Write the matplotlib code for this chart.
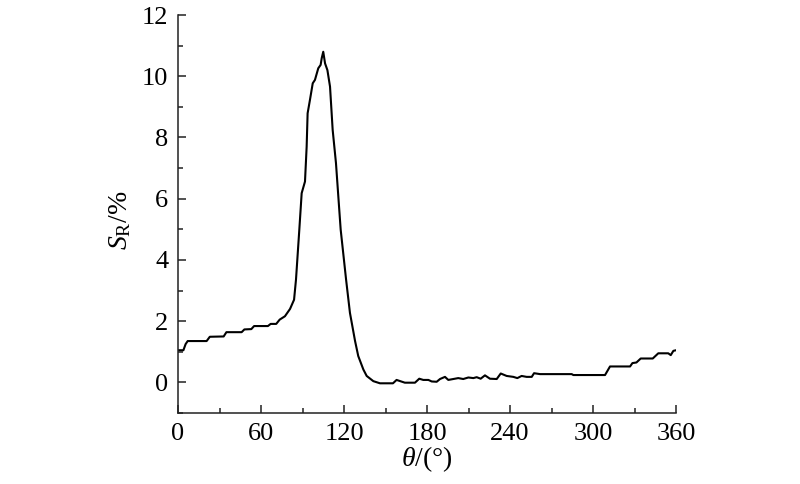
import matplotlib.pyplot as plt
from matplotlib.ticker import MultipleLocator

# curve
theta = [0, 3.9, 5.5, 7, 20.7, 23, 33, 35, 46, 48, 53, 55, 65, 67, 71, 73.5,
         77.3, 81, 83.9, 85.3, 87.7, 89.4, 91.8, 93, 93.7, 95.4, 97.4, 99,
         101.4, 103.1, 103.9, 105, 106.3, 108, 109.9, 111.8, 114.2, 115.9,
         117.6, 121.5, 124.3, 128, 130.3, 134, 136.4, 141.2, 146, 155.4,
         158, 164, 171.3, 174.4, 177.3, 181, 183.4, 187, 189.4, 193, 195.4,
         199, 202.6, 206.2, 209.9, 213.5, 215.9, 218.8, 221.9, 225.5, 230.4,
         233.3, 237.6, 242.4, 245.3, 248.4, 252, 255.7, 257.4, 261.7, 284.6,
         285.8, 308.7, 312.3, 326.8, 328.5, 331.4, 334.5, 343.2, 347.2,
         354.4, 356.2, 358.1, 360]
s_r = [1.05, 1.05, 1.25, 1.35, 1.35, 1.49, 1.5, 1.64, 1.64, 1.73, 1.74, 1.84,
       1.84, 1.91, 1.91, 2.05, 2.16, 2.4, 2.7, 3.36, 4.99, 6.18, 6.56, 7.7,
       8.79, 9.23, 9.77, 9.88, 10.26, 10.37, 10.59, 10.8, 10.42, 10.2, 9.66,
       8.25, 7.16, 6.07, 4.99, 3.36, 2.27, 1.35, 0.86, 0.42, 0.21, 0.04,
       -0.03, -0.03, 0.08, -0.01, -0.01, 0.12, 0.08, 0.08, 0.03, 0.02, 0.11,
       0.18, 0.08, 0.11, 0.14, 0.11, 0.16, 0.14, 0.17, 0.12, 0.23, 0.12, 0.11,
       0.29, 0.21, 0.18, 0.14, 0.21, 0.18, 0.18, 0.3, 0.27, 0.27, 0.24, 0.24,
       0.52, 0.52, 0.63, 0.65, 0.78, 0.78, 0.95, 0.95, 0.89, 1.03, 1.05]

plt.rcParams["font.family"] = ["Liberation Serif", "DejaVu Serif"]
plt.rcParams["mathtext.fontset"] = "custom"
plt.rcParams["mathtext.rm"] = "Liberation Serif"
plt.rcParams["mathtext.it"] = "Liberation Serif:italic"

fig = plt.figure(figsize=(8, 4.84), dpi=100)
ax = fig.add_axes([0.2225, 0.1467, 0.6225, 0.8223])

ax.plot(theta, s_r, color="black", linewidth=1.5)

ax.set_xlim(0, 360)
ax.set_ylim(-1, 12)
ax.xaxis.set_major_locator(MultipleLocator(60))
ax.xaxis.set_minor_locator(MultipleLocator(30))
ax.yaxis.set_major_locator(MultipleLocator(2))
ax.yaxis.set_minor_locator(MultipleLocator(1))

for side in ("top", "right"):
    ax.spines[side].set_visible(False)
for side in ("left", "bottom"):
    ax.spines[side].set_linewidth(1.1)
    ax.spines[side].set_color("#222222")

ax.tick_params(which="major", direction="in", length=6, width=1.1,
               labelsize=19, pad=7, color="#222222")
ax.tick_params(which="minor", direction="in", length=3.5, width=1.1,
               color="#222222")

ax.set_xlabel(r"$\theta$/(°)", fontsize=20, labelpad=0)
ax.set_ylabel(r"$S_{\mathrm{R}}$/%", fontsize=20)
ax.yaxis.set_label_coords(-0.09, 0.485)

fig.savefig("out.png", dpi=100)
